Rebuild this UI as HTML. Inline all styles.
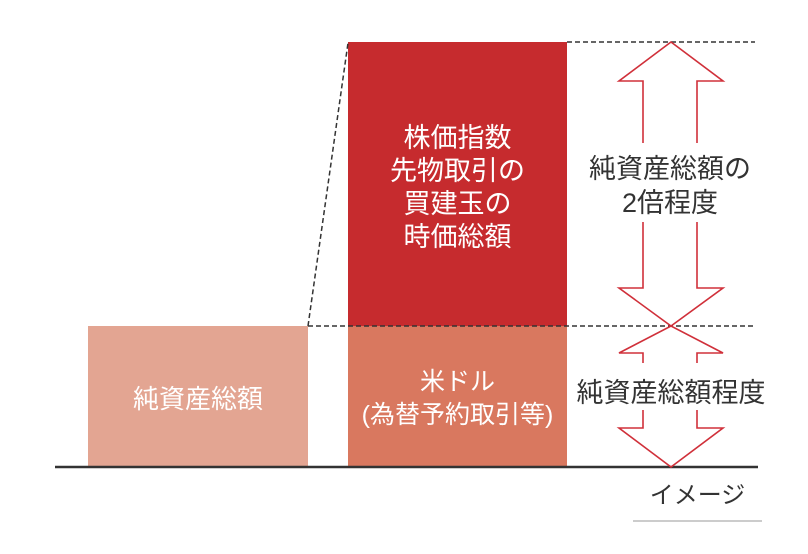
<!DOCTYPE html>
<html><head><meta charset="utf-8"><style>
html,body{margin:0;padding:0;background:#fff;}
body{width:808px;height:554px;position:relative;overflow:hidden;font-family:"Liberation Sans","Noto Sans CJK JP",sans-serif;}
.t{position:absolute;text-align:center;white-space:nowrap;}
</style></head><body>
<svg width="808" height="554" style="position:absolute;left:0;top:0">
<rect x="88" y="326" width="220" height="141" fill="#e3a592"/>
<rect x="348" y="42" width="219" height="284" fill="#c62b2e"/>
<rect x="348" y="326" width="219" height="141" fill="#d9785f"/>
<line x1="55" y1="467" x2="758" y2="467" stroke="#333" stroke-width="2.5"/>
<g stroke="#333" stroke-width="1.5" stroke-dasharray="5,3" fill="none">
<line x1="567" y1="42" x2="755" y2="42"/>
<line x1="308" y1="326" x2="755" y2="326"/>
<line x1="308" y1="326" x2="348" y2="43"/>
</g>
<g stroke="#d0303a" stroke-width="1.6" fill="none" stroke-linejoin="miter">
<polyline points="643,143 643,81 619,81 671,42 723,81 697,81 697,143"/>
<polyline points="643,222 643,288 619,288 671,326 723,288 697,288 697,222"/>
<polyline points="643,363 643,353 619,353 671,326 723,353 697,353 697,363"/>
<polyline points="643,410 643,428 619,428 671,467 723,428 697,428 697,410"/>
</g>
<line x1="633" y1="521" x2="762" y2="521" stroke="#bbb" stroke-width="1.5"/>
</svg>
<div class="t" style="left:348px;width:219px;top:122px;font-size:27px;line-height:33px;color:#fff">株価指数<br>先物取引の<br>買建玉の<br>時価総額</div>
<div class="t" style="left:348px;width:219px;top:366px;font-size:25px;line-height:33px;color:#fff">米ドル<br>(為替予約取引等)</div>
<div class="t" style="left:88px;width:220px;top:384px;font-size:26px;line-height:30px;color:#fff">純資産総額</div>
<div class="t" style="left:570px;width:200px;top:152px;font-size:27px;line-height:34px;color:#333">純資産総額の<br>2倍程度</div>
<div class="t" style="left:571px;width:200px;top:377px;font-size:27px;line-height:32px;color:#333">純資産総額程度</div>
<div class="t" style="left:633px;width:129px;top:481px;font-size:24px;line-height:30px;color:#333">イメージ</div>
</body></html>
